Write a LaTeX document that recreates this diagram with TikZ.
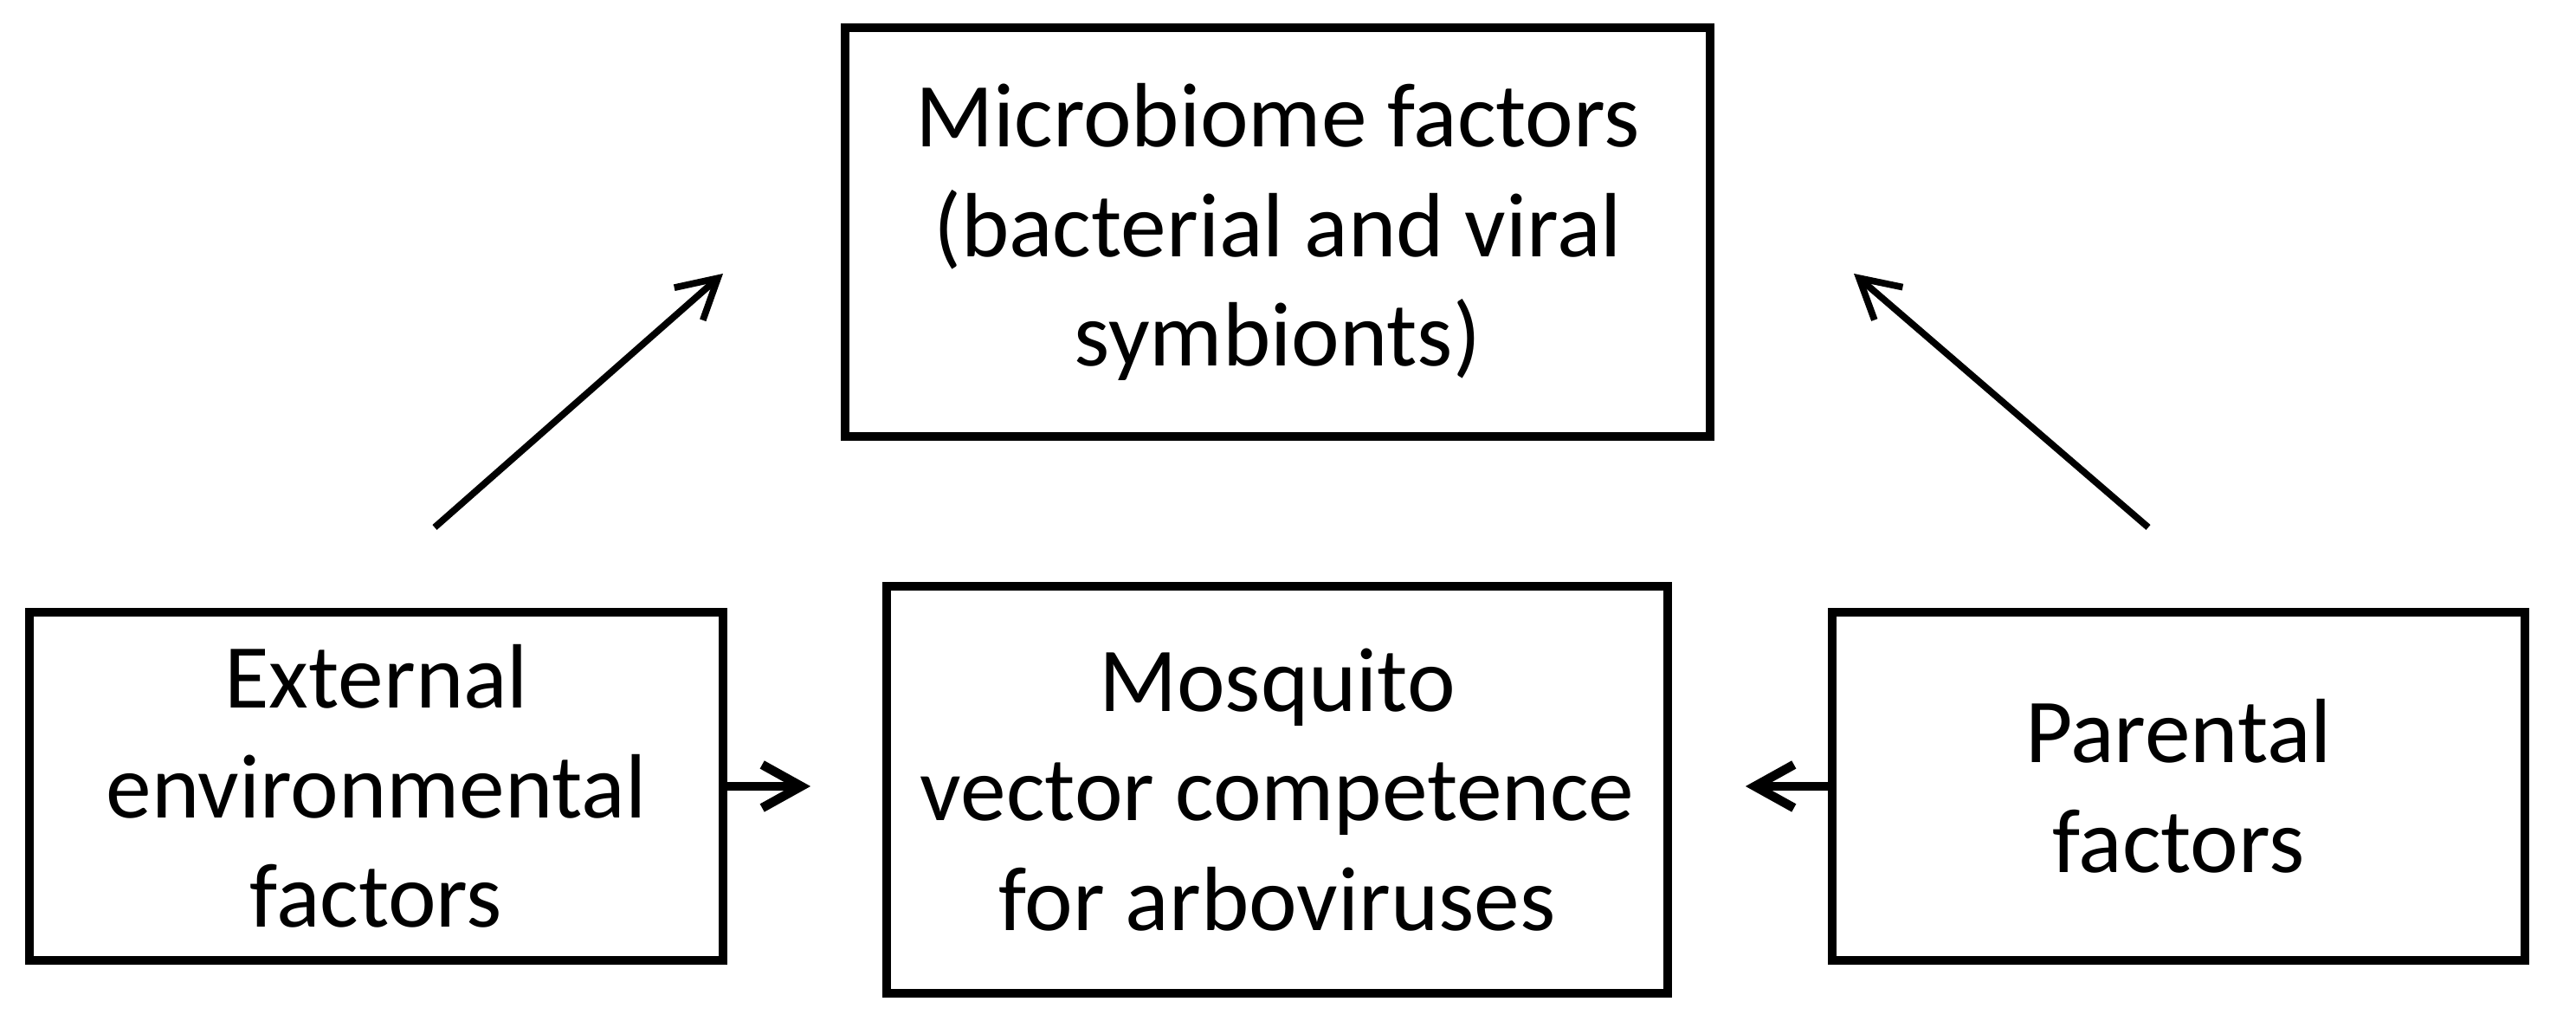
\documentclass[tikz,border=0pt]{standalone}
\usepackage{fontspec}
\setmainfont{Carlito}
\usetikzlibrary{arrows.meta}
\begin{document}
\begin{tikzpicture}[
  factorbox/.style={draw,line width=2.8pt,align=center,inner sep=0pt,
    font=\fontsize{30}{36}\selectfont},
  arr/.style={line width=2.2pt,-{Straight Barb[length=4.5mm,width=5mm]}},
  shortarr/.style={line width=3pt,-{Straight Barb[length=4.5mm,width=5mm]}}]
\useasboundingbox (0,0) rectangle (29.75,11.79);
\node[factorbox,minimum width=9.99cm,minimum height=4.72cm](micro) at (14.755,9.11)
  {Microbiome factors\\(bacterial and viral\\symbionts)};
\node[factorbox,minimum width=8.01cm,minimum height=4.02cm](ext) at (4.345,2.71)
  {External\\environmental\\factors};
\node[factorbox,minimum width=9.02cm,minimum height=4.70cm](mosq) at (14.75,2.67)
  {Mosquito\\vector competence\\for arboviruses};
\node[factorbox,minimum width=8.0cm,minimum height=4.02cm](par) at (25.16,2.71)
  {Parental\\factors};
\coordinate (extfrom) at (5.02,5.70);
\coordinate (extto) at (8.35,8.63);
\coordinate (parfrom) at (24.81,5.70);
\coordinate (parto) at (21.41,8.63);
\draw[arr](extfrom)--(extto);
\draw[arr](parfrom)--(parto);
\draw[shortarr,shorten >=0.83cm](ext.east)--(ext.east-|mosq.west);
\draw[shortarr,shorten >=0.85cm](par.west)--(par.west-|mosq.east);
\end{tikzpicture}
\end{document}
